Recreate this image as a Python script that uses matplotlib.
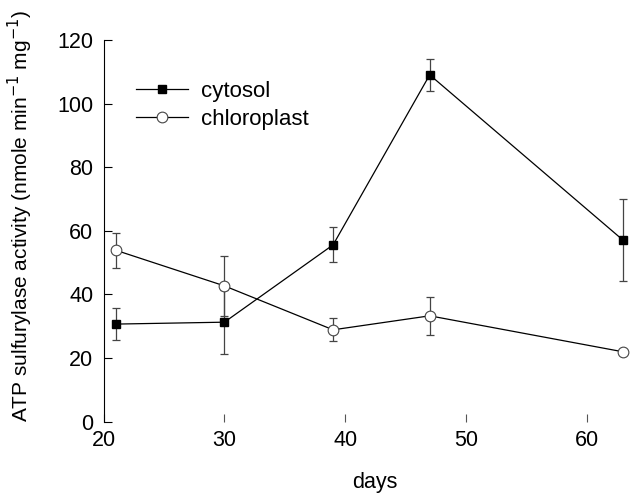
import matplotlib
matplotlib.use('Agg')
import matplotlib.pyplot as plt

plt.rcParams['font.family'] = ['Liberation Sans', 'DejaVu Sans']

days = [21, 30, 39, 47, 63]
cytosol = [30.7, 31.3, 55.6, 109.0, 57.1]
cytosol_err = [5.1, 10.0, 5.5, 5.0, 13.0]
chloroplast = [53.9, 42.7, 28.9, 33.3, 22.0]
chloroplast_err = [5.5, 9.4, 3.6, 6.0, 0.0]

fig = plt.figure(figsize=(6.44, 4.98), dpi=100)
ax = fig.add_axes([0.161, 0.153, 0.825, 0.767])

# error bars first, markers on top
ax.errorbar(days, cytosol, yerr=cytosol_err, fmt='none',
            ecolor='#444444', elinewidth=0.9, capsize=3, capthick=0.9, zorder=2)
ax.errorbar(days, chloroplast, yerr=chloroplast_err, fmt='none',
            ecolor='#444444', elinewidth=0.9, capsize=3, capthick=0.9, zorder=2)

ax.plot(days, cytosol, color='black', lw=0.9, marker='s', ms=5.5,
        mfc='black', mec='black', label='cytosol', zorder=3)
ax.plot(days, chloroplast, color='black', lw=0.9, marker='o', ms=7.7,
        mfc='white', mec='#444444', mew=0.8, label='chloroplast', zorder=3)

ax.set_xlim(20, 64)
ax.set_ylim(0, 120)
ax.set_xticks([20, 30, 40, 50, 60])
ax.set_yticks([0, 20, 40, 60, 80, 100, 120])

for s in ['top', 'right', 'bottom']:
    ax.spines[s].set_visible(False)
ax.spines['left'].set_linewidth(0.8)
ax.tick_params(axis='y', direction='in', length=6, width=0.8, labelsize=15.5, pad=7.5)
ax.tick_params(axis='x', direction='in', length=6, width=0.8, labelsize=15.5, pad=6,
               color='#555555')

ax.set_xlabel('days', fontsize=15.5)
ax.xaxis.set_label_coords(0.51, -0.132)
ax.set_ylabel('ATP sulfurylase activity (nmole min$^{-1}$ mg$^{-1}$)',
              fontsize=15)
ax.yaxis.set_label_coords(-0.13, 0.54)

ax.legend(loc='upper left', bbox_to_anchor=(0.06, 0.892), frameon=False,
          fontsize=16, handlelength=2.35, handletextpad=0.6,
          labelspacing=0.31, borderaxespad=0, borderpad=0)

fig.savefig('out.png', dpi=100)
